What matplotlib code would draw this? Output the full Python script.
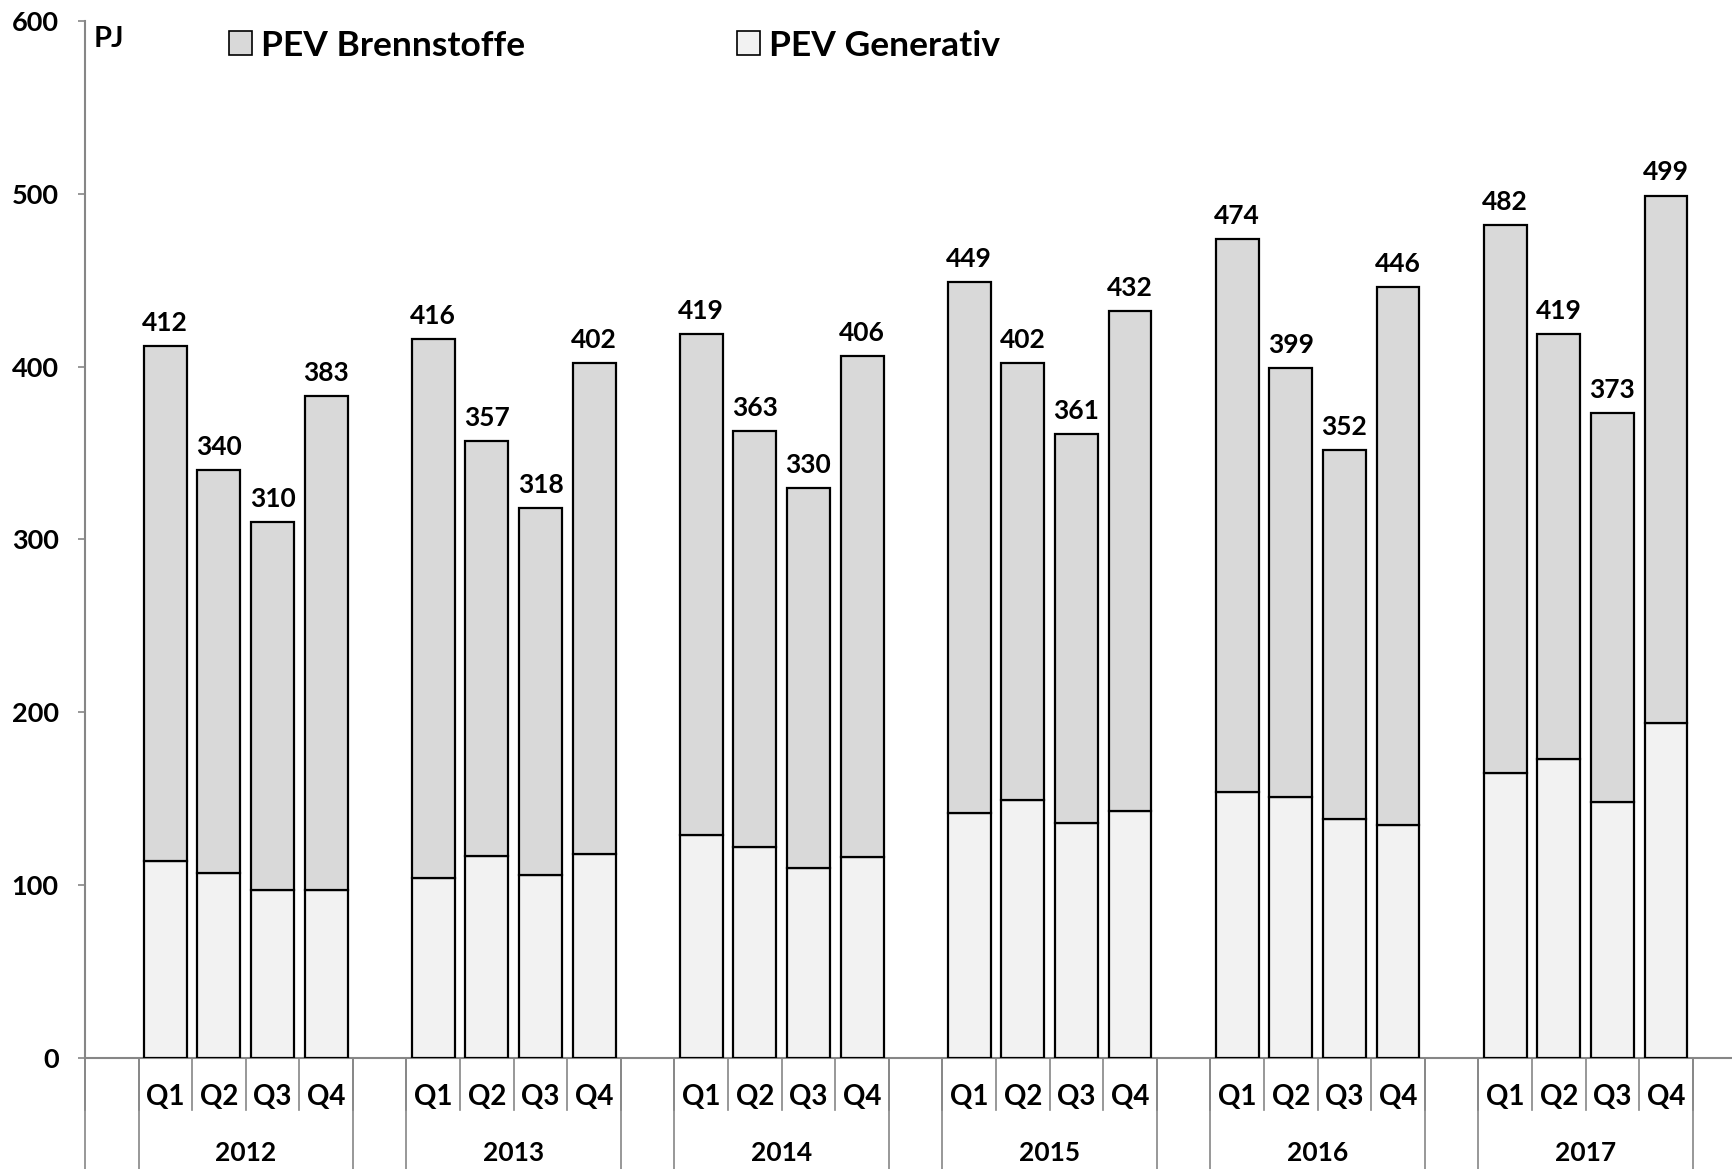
import matplotlib
matplotlib.use('Agg')
import matplotlib.pyplot as plt
from matplotlib.patches import Patch
import matplotlib.transforms as mtransforms
import numpy as np

plt.rcParams['font.family'] = ['Lato', 'DejaVu Sans']
plt.rcParams['font.weight'] = 'bold'

# Data (PJ), per quarter 2012-2017
years = ['2012', '2013', '2014', '2015', '2016', '2017']
quarters = ['Q1', 'Q2', 'Q3', 'Q4']
totals = [412, 340, 310, 383,
          416, 357, 318, 402,
          419, 363, 330, 406,
          449, 402, 361, 432,
          474, 399, 352, 446,
          482, 419, 373, 499]
generativ = [114, 107, 97, 97,
             104, 117, 106, 118,
             129, 122, 110, 116,
             142, 149, 136, 143,
             154, 151, 138, 135,
             165, 173, 148, 194]
brennstoffe = [t - g for t, g in zip(totals, generativ)]

COL_BRENN = '#d9d9d9'
COL_GEN = '#f2f2f2'
AXIS_GRAY = '#868686'

fig = plt.figure(figsize=(17.33, 11.69), dpi=100)
ax = fig.add_axes([0.049, 0.095, 0.951, 0.887])

# one empty slot before each year group of four quarters
n_slot = len(quarters) + 1
x = np.array([n_slot * k + 1 + q for k in range(len(years)) for q in range(len(quarters))])

ax.bar(x, generativ, width=0.8, color=COL_GEN, edgecolor='black', linewidth=1.6, zorder=3)
ax.bar(x, brennstoffe, bottom=generativ, width=0.8, color=COL_BRENN,
       edgecolor='black', linewidth=1.6, zorder=3)

for xi, t in zip(x, totals):
    ax.annotate(f'{t}', (xi, t), textcoords='offset points', xytext=(0, 8),
                ha='center', va='bottom', fontsize=19, fontweight='bold')

ax.set_ylim(0, 600)
ax.set_xlim(-0.5, 30.25)
ax.set_yticks(range(0, 601, 100))
ax.tick_params(axis='y', length=5, width=1.2, color=AXIS_GRAY, pad=14, labelsize=19.5)
for lab in ax.get_yticklabels():
    lab.set_fontweight('bold')
ax.set_xticks([])
for side in ['top', 'right']:
    ax.spines[side].set_visible(False)
for side in ['left', 'bottom']:
    ax.spines[side].set_color(AXIS_GRAY)
    ax.spines[side].set_linewidth(1.5)

# two-level category axis
trans = mtransforms.blended_transform_factory(ax.transData, ax.transAxes)
n_total = n_slot * len(years) + 1
for b in np.arange(n_total + 1) - 0.5:
    ax.plot([b, b], [0, -0.05], transform=trans, color=AXIS_GRAY, lw=1.2, clip_on=False)
for k in range(len(years) + 1):
    for b in (n_slot * k - 0.5, n_slot * k + 0.5):
        ax.plot([b, b], [0, -0.11], transform=trans, color=AXIS_GRAY, lw=1.2, clip_on=False)

for xi, q in zip(x, quarters * len(years)):
    ax.text(xi, -0.038, q, transform=trans, ha='center', va='center',
            fontsize=20, fontweight='bold')
for k, yr in enumerate(years):
    ax.text(n_slot * k + 2.5, -0.092, yr, transform=trans, ha='center', va='center',
            fontsize=19, fontweight='bold')

fig.text(0.054, 0.967, 'PJ', ha='left', va='center', fontsize=21, fontweight='bold')

handles = [Patch(facecolor=COL_BRENN, edgecolor='black', linewidth=1.2, label='PEV Brennstoffe'),
           Patch(facecolor=COL_GEN, edgecolor='black', linewidth=1.2, label='PEV Generativ')]
fig.legend(handles=handles, loc='center left', bbox_to_anchor=(0.132, 0.961), ncol=2,
           frameon=False, handlelength=0.65, handleheight=0.65,
           handletextpad=0.25, columnspacing=6.0, borderpad=0, borderaxespad=0,
           prop={'weight': 'bold', 'size': 25.5})

plt.savefig('out.png', dpi=100, facecolor='white')
plt.close()
